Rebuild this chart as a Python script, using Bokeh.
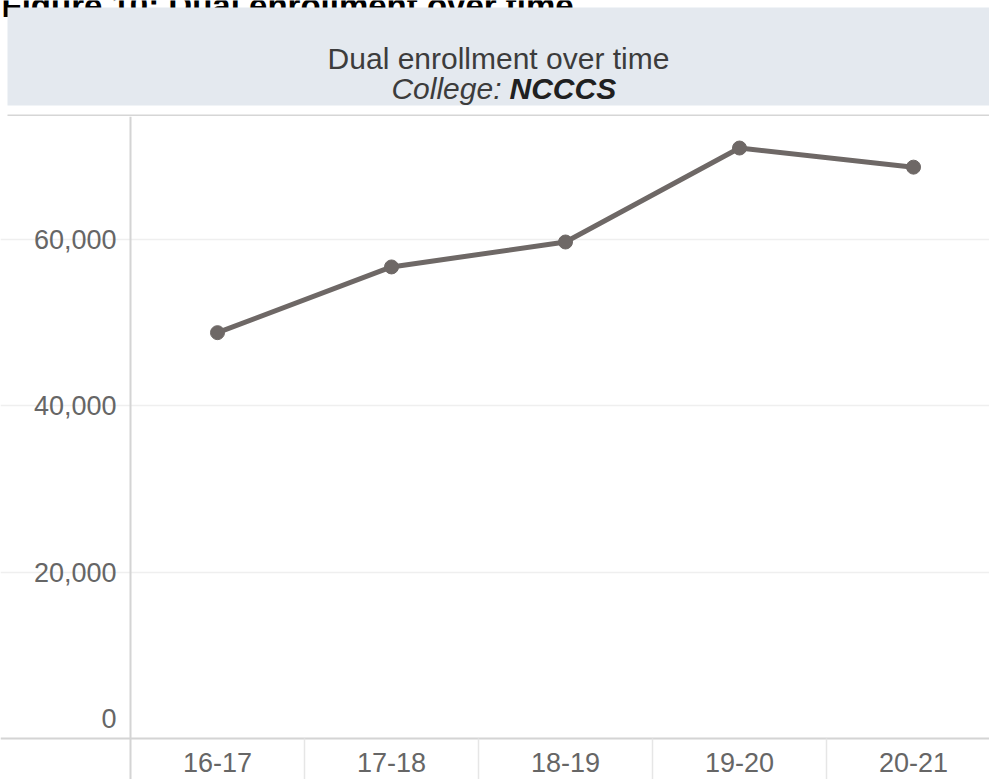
from bokeh.plotting import figure
from bokeh.models import Range1d, LinearAxis, FixedTicker, ColumnDataSource, NumeralTickFormatter, Grid
from bokeh.layouts import column
from bokeh.core.properties import value
from bokeh.embed import file_html
from bokeh.resources import INLINE

# ---- data ----
categories = ["16-17", "17-18", "18-19", "19-20", "20-21"]
enrollment = [48800, 56700, 59700, 71000, 68700]
y_ticks = [20000, 40000, 60000]
heading = "Figure 10: Dual enrollment over time."
title_line1 = "Dual enrollment over time"
title_prefix = "College:"
title_college = "NCCCS"

FONT = "Liberation Sans"
W = 989
HDR_H = 116
MAIN_H = 779 - HDR_H

# ---- header band (coordinates are page pixels) ----
hdr = figure(width=W, height=HDR_H, x_range=Range1d(0, W), y_range=Range1d(HDR_H, 0),
             output_backend="svg", toolbar_location=None,
             x_axis_location=None, y_axis_location=None,
             min_border_left=0, min_border_right=0, min_border_top=0, min_border_bottom=0)
for g in hdr.grid:
    g.visible = False
hdr.outline_line_color = None
hdr.background_fill_color = "white"
hdr.border_fill_color = "white"
hdr.text(x=[1], y=[5], text=[heading], text_align="left", text_baseline="alphabetic",
         text_font=value(FONT), text_font_size="33px", text_font_style="bold", text_color="#000000")
hdr.quad(left=[7], right=[W], top=[7], bottom=[105], fill_color="#e4e9ef", line_color=None)
hdr.segment(x0=[7], x1=[W], y0=[115], y1=[115], line_color="#d6d6d6", line_width=2)
hdr.text(x=[498], y=[58], text=[title_line1], text_align="center", text_baseline="alphabetic",
         text_font=value(FONT), text_font_size="30px", text_color="#3c3c3c")
hdr.text(x=[501], y=[88], text=[title_prefix], text_align="right", text_baseline="alphabetic",
         text_font=value(FONT), text_font_size="30px", text_font_style="italic", text_color="#3c3c3c")
hdr.text(x=[509], y=[88], text=[title_college], text_align="left", text_baseline="alphabetic",
         text_font=value(FONT), text_font_size="30px", text_font_style="bold italic", text_color="#202020")

# ---- main chart ----
xs = list(range(len(categories)))
band = 174.0
x_start = 0 - 217 / band
x_end = x_start + W / band
y_start, y_end = -4930, 74790
px_per_unit = MAIN_H / (y_end - y_start)

p = figure(width=W, height=MAIN_H, x_range=Range1d(x_start, x_end), y_range=Range1d(y_start, y_end),
           output_backend="svg", toolbar_location=None,
           x_axis_location=None, y_axis_location=None,
           min_border_left=0, min_border_right=0, min_border_top=0, min_border_bottom=0)
for g in p.grid:
    g.visible = False
p.outline_line_color = None
p.background_fill_color = "white"
p.border_fill_color = "white"

grid = Grid(dimension=1, ticker=FixedTicker(ticks=y_ticks), grid_line_color="#efefef", grid_line_width=1.5)
p.add_layout(grid)

# x axis at y = 0
xa = LinearAxis(ticker=FixedTicker(ticks=xs, minor_ticks=[0.5, 1.5, 2.5, 3.5]),
                major_label_overrides={i: c for i, c in enumerate(categories)},
                fixed_location=0)
xa.axis_line_color = "#d4d4d4"
xa.axis_line_width = 2
xa.major_tick_line_color = None
xa.major_tick_in = 0
xa.major_tick_out = 0
xa.minor_tick_line_color = "#e6e6e6"
xa.minor_tick_line_width = 1.5
xa.minor_tick_in = 0
xa.minor_tick_out = 41
xa.major_label_standoff = -26
xa.major_label_text_font = FONT
xa.major_label_text_font_size = "27px"
xa.major_label_text_color = "#666666"
p.add_layout(xa, "below")

# y axis at the first category boundary
ya = LinearAxis(ticker=FixedTicker(ticks=y_ticks), formatter=NumeralTickFormatter(format="0,0"),
                fixed_location=-0.5)
ya.axis_line_color = "#d4d4d4"
ya.axis_line_width = 2
ya.major_tick_line_color = None
ya.major_tick_in = 0
ya.major_tick_out = 0
ya.minor_tick_line_color = None
ya.major_label_standoff = 14
ya.major_label_text_font = FONT
ya.major_label_text_font_size = "27px"
ya.major_label_text_color = "#666666"
p.add_layout(ya, "left")

# the zero label sits just above the baseline
zero_lift = 20 / px_per_unit
y0 = LinearAxis(ticker=FixedTicker(ticks=[zero_lift]), major_label_overrides={zero_lift: "0"},
                fixed_location=-0.5)
y0.axis_line_color = None
y0.major_tick_line_color = None
y0.major_tick_in = 0
y0.major_tick_out = 0
y0.minor_tick_line_color = None
y0.major_label_standoff = 14
y0.major_label_text_font = FONT
y0.major_label_text_font_size = "27px"
y0.major_label_text_color = "#666666"
p.add_layout(y0, "left")

src = ColumnDataSource(dict(x=xs, y=enrollment, cat=categories))
p.line("x", "y", source=src, line_color="#6e6866", line_width=5)
p.scatter("x", "y", source=src, size=14, fill_color="#6e6866", line_color="#6e6866")

layout = column(hdr, p, spacing=0)
open("out.html", "w").write(file_html(layout, INLINE))
